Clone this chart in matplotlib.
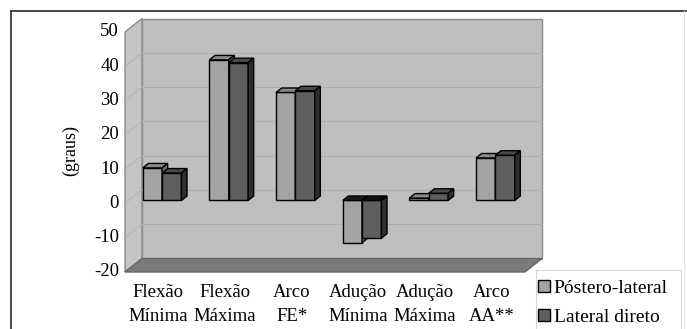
import matplotlib
matplotlib.use("Agg")
import matplotlib.pyplot as plt
from matplotlib.patches import Polygon, Patch, Rectangle
from matplotlib.lines import Line2D

# ---- data -------------------------------------------------------------
categories = ["Flexão\nMínima", "Flexão\nMáxima", "Arco\nFE*",
              "Adução\nMínima", "Adução\nMáxima", "Arco\nAA**"]
series_names = ["Póstero-lateral", "Lateral direto"]
postero_lateral = [9.5, 41.0, 31.5, -12.3, 0.7, 12.4]
lateral_direto = [8.0, 40.2, 32.0, -11.0, 2.1, 13.2]
y_ticks = [-20, -10, 0, 10, 20, 30, 40, 50]
y_label = "(graus)"

# ---- figure / pseudo-3D frame ------------------------------------------
W, H = 687, 329
plt.rcParams["font.family"] = ["Liberation Serif", "DejaVu Serif"]
fig = plt.figure(figsize=(W / 100, H / 100), dpi=100)
ax = fig.add_axes([0, 0, 1, 1])
ax.set_axis_off()

# front plane of the box, in pixels
PX_L, PX_R = 125, 525
PY_BOT, PY_TOP = 272, 32
n = len(categories)
ymin, ymax = y_ticks[0], y_ticks[-1]
sx = (PX_R - PX_L) / n
sy = (PY_BOT - PY_TOP) / (ymax - ymin)
ax.set_xlim(-0.5 - PX_L / sx, -0.5 + (W - PX_L) / sx)
ax.set_ylim(ymin - (H - PY_BOT) / sy, ymin + PY_BOT / sy)

# depth direction of the box
DX = 17 / sx
DY = 13.5 / sy


def P(x, v, d):
    return (x + d * DX, v + d * DY)


def face(pts, fc, ec, lw=0.8, z=1):
    ax.add_patch(Polygon(pts, closed=True, facecolor=fc, edgecolor=ec,
                         linewidth=lw, zorder=z, joinstyle="miter"))


x0, x1 = -0.5, n - 0.5
# back wall, side wall, floor
face([P(x0, ymin, 1), P(x1, ymin, 1), P(x1, ymax, 1), P(x0, ymax, 1)],
     "#bfbfbf", "#8c8c8c", 1.0, 1)
face([P(x0, ymin, 0), P(x0, ymin, 1), P(x0, ymax, 1), P(x0, ymax, 0)],
     "#c4c4c4", "#8c8c8c", 1.0, 1)

# gridlines on the walls
for v in y_ticks[1:-1]:
    xs, ys = zip(P(x0, v, 1), P(x1, v, 1))
    ax.plot(xs, ys, color="#aeaeae", lw=0.7, zorder=2)
    xs, ys = zip(P(x0, v, 0), P(x0, v, 1))
    ax.plot(xs, ys, color="#b2b2b2", lw=0.7, zorder=2)

face([P(x0, ymin, 0), P(x1, ymin, 0), P(x1, ymin, 1), P(x0, ymin, 1)],
     "#7a7a7a", "#666666", 1.0, 3)

# ---- 3-D columns ------------------------------------------------------
half = 0.29
d0, d1 = 0.22, 0.55
styles = [
    dict(front="#a3a3a3", top="#8a8a8a", side="#6e6e6e", neg_top="#1a1a1a"),
    dict(front="#5e5e5e", top="#4a4a4a", side="#2e2e2e", neg_top="#111111"),
]
series = [postero_lateral, lateral_direto]
offsets = [-half, 0.0]

z = 10
for i in range(n):
    for s, vals in enumerate(series):
        st = styles[s]
        v = vals[i]
        left = i + offsets[s]
        right = left + half
        sh_x, sh_y = d0 * DX, d0 * DY
        # front face drawn as a regular bar, shifted into the box depth
        ax.bar(left + sh_x, v, width=half, bottom=sh_y, align="edge",
               color=st["front"], edgecolor="black", linewidth=1.0, zorder=z)
        vt = max(v, 0)
        top_col = st["top"] if v >= 0 else st["neg_top"]
        face([P(left, vt, d0), P(right, vt, d0), P(right, vt, d1), P(left, vt, d1)],
             top_col, "black", 1.0, z)
        face([P(right, 0, d0), P(right, v, d0), P(right, v, d1), P(right, 0, d1)],
             st["side"], "black", 1.0, z)
        z += 1

# ---- axis text --------------------------------------------------------
for v in y_ticks:
    x, y = P(x0, v, 0)
    ax.text(x - 6 / sx, y, str(v), ha="right", va="center", fontsize=13.5,
            color="black", zorder=30)

for i, lab in enumerate(categories):
    ax.text(i, ymin - 12 / sy, lab, ha="center", va="top", fontsize=13.5,
            linespacing=1.55, color="black", zorder=30)

ax.text(x0 - 54 / sx, ymin + (PY_BOT - 150) / sy, y_label, rotation=90,
        ha="center", va="center", fontsize=13, color="black")

# legend box (runs past the lower edge of the image)
fig.add_artist(Rectangle((536 / W, -0.05), (681 - 536) / W, (1 - 270 / H) + 0.05,
                         transform=fig.transFigure, facecolor="white",
                         edgecolor="#d6d6d6", linewidth=0.8, zorder=5))
handles = [Patch(facecolor=styles[k]["front"], edgecolor="black",
                 linewidth=1.0, label=series_names[k]) for k in range(2)]
leg = fig.legend(handles=handles, loc="upper left",
                 bbox_to_anchor=(538 / W, 1 - 280 / H),
                 bbox_transform=fig.transFigure, fontsize=14, frameon=False,
                 borderaxespad=0, borderpad=0,
                 handlelength=0.6, handleheight=0.6, handletextpad=0.2,
                 labelspacing=0.62)
leg.set_zorder(10)

# ---- outer chart border -----------------------------------------------
fig.add_artist(Line2D([11 / W, 1], [1 - 11 / H, 1 - 11 / H],
                      transform=fig.transFigure, color="#3a3a3a", lw=1.3))
fig.add_artist(Line2D([11 / W, 11 / W], [0, 1 - 11 / H],
                      transform=fig.transFigure, color="#3a3a3a", lw=1.3))
fig.add_artist(Line2D([684 / W, 684 / W], [0, 1 - 11 / H],
                      transform=fig.transFigure, color="#e4e4e4", lw=0.8))

fig.savefig("out.png", dpi=100)
